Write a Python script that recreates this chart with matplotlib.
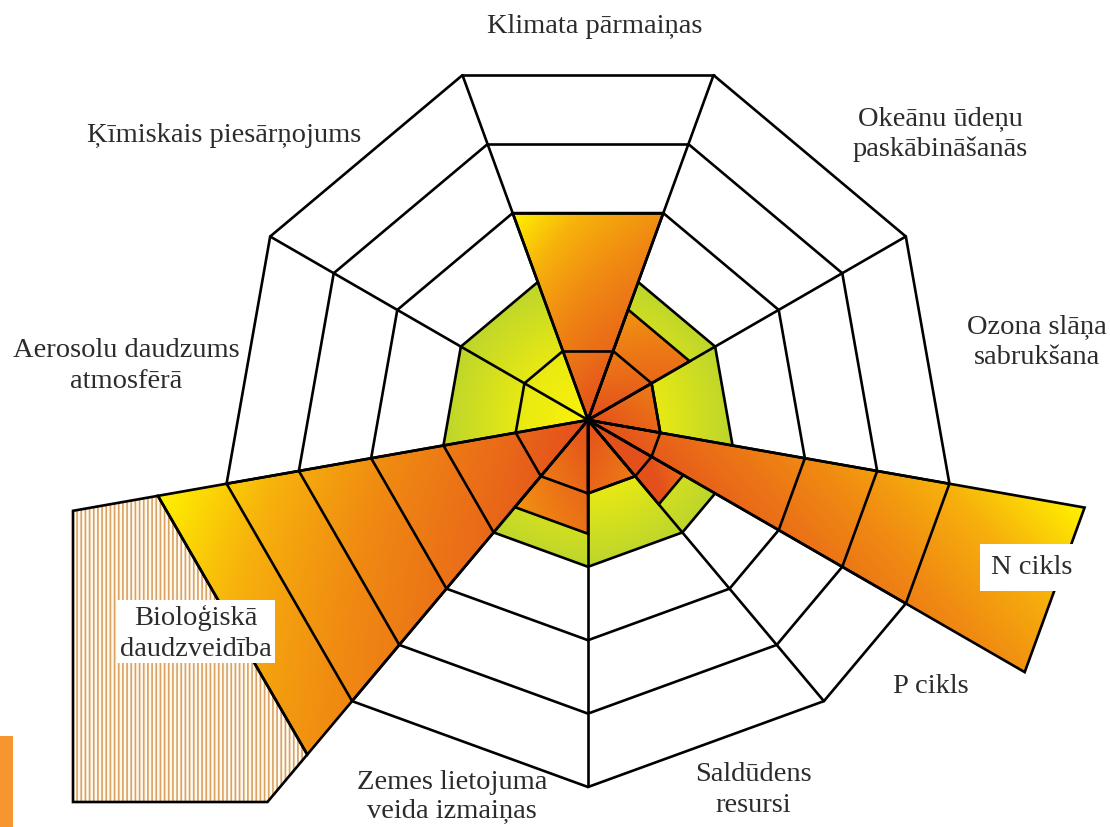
import numpy as np
import matplotlib.pyplot as plt
from matplotlib.patches import Polygon, Rectangle
from matplotlib.colors import LinearSegmentedColormap

# planetary boundaries (Latvian labels), one entry per sector
boundaries = ['Klimata pārmaiņas', 'Okeānu ūdeņu paskābināšanās', 'Ozona slāņa sabrukšana',
              'N cikls', 'P cikls', 'Saldūdens resursi', 'Zemes lietojuma veida izmaiņas',
              'Bioloģiskā daudzveidība', 'Aerosolu daudzums atmosfērā', 'Ķīmiskais piesārņojums']
# sector edges, degrees counter-clockwise from east
sector_start = [70, 30, -10, -30, -50, -90, -130, -170, 150, 110]
sector_end = [110, 70, 30, -10, -30, -50, -90, -130, 190, 150]
# current state in ring units (safe boundary at ring 2), nan = not quantified
current_state = [3.0, 1.6, 1.0, 6.87, 1.5, 1.0, 1.55, 5.95, np.nan, np.nan]
off_chart = ['Bioloģiskā daudzveidība']
safe_level = 2
n_rings = 5

# label text, split in lines
label_lines = {
    'Klimata pārmaiņas': ['Klimata pārmaiņas'],
    'Okeānu ūdeņu paskābināšanās': ['Okeānu ūdeņu', 'paskābināšanās'],
    'Ozona slāņa sabrukšana': ['Ozona slāņa', 'sabrukšana'],
    'N cikls': ['N cikls'],
    'P cikls': ['P cikls'],
    'Saldūdens resursi': ['Saldūdens', 'resursi'],
    'Zemes lietojuma veida izmaiņas': ['Zemes lietojuma', 'veida izmaiņas'],
    'Bioloģiskā daudzveidība': ['Bioloģiskā', 'daudzveidība'],
    'Aerosolu daudzums atmosfērā': ['Aerosolu daudzums', 'atmosfērā'],
    'Ķīmiskais piesārņojums': ['Ķīmiskais piesārņojums'],
}

# ---- layout (pixel coordinates, y down) ----
W, H = 1110, 827
cx, cy = 588, 420
unit = 73.4
hatch_left, hatch_bottom = 73, 802
label_pos = {
    'Klimata pārmaiņas': (595, 33),
    'Okeānu ūdeņu paskābināšanās': (940, 125),
    'Ozona slāņa sabrukšana': (1037, 333),
    'N cikls': (1032, 574),
    'P cikls': (931, 693),
    'Saldūdens resursi': (753, 781),
    'Zemes lietojuma veida izmaiņas': (452, 789),
    'Bioloģiskā daudzveidība': (196, 625),
    'Aerosolu daudzums atmosfērā': (126, 357),
    'Ķīmiskais piesārņojums': (224, 142),
}
line_step = {'Zemes lietojuma veida izmaiņas': 28}
hidden_rings = {'Klimata pārmaiņas': [2], 'N cikls': [2]}
boxed = {'N cikls'}
LW = 1.9
FONT = 'Liberation Serif'
TXT = '#2b2b2b'

state_cmap = LinearSegmentedColormap.from_list(
    'state', [(0, '#FFF200'), (0.28, '#F7B20C'), (0.55, '#F08A12'), (0.8, '#EA6C18'),
              (1, '#E4501C')])
safe_cmap = LinearSegmentedColormap.from_list(
    'safe', [(0, '#FBF20A'), (0.45, '#EAEA12'), (1, '#BCD52C')])
tone_shift = {'P cikls': 0.3}


def pt(level, ang):
    a = np.radians(ang)
    return (cx + level * unit * np.cos(a), cy - level * unit * np.sin(a))


def ray_to(ang, r_px):
    a = np.radians(ang)
    return (cx + r_px * np.cos(a), cy - r_px * np.sin(a))


fig = plt.figure(figsize=(W / 100, H / 100), dpi=100)
ax = fig.add_axes([0, 0, 1, 1])


def gradient_fill(poly_xy, func, cmap, zorder):
    poly_xy = np.asarray(poly_xy)
    x0, y0 = np.floor(poly_xy.min(axis=0)) - 2
    x1, y1 = np.ceil(poly_xy.max(axis=0)) + 2
    X, Y = np.meshgrid(np.arange(x0, x1 + 1), np.arange(y0, y1 + 1))
    img = cmap(np.clip(func(X, Y), 0, 1))
    im = ax.imshow(img, extent=(x0, x1, y0, y1), origin='lower',
                   interpolation='bilinear', aspect='auto', zorder=zorder)
    clip = Polygon(poly_xy, closed=True, transform=ax.transData, fill=False, lw=0)
    ax.add_patch(clip)
    im.set_clip_path(clip)


# safe operating space (ring 2 polygon), radial yellow -> green
edge_angles = sorted(set(sector_start), reverse=True)
safe_poly = [pt(safe_level, a) for a in edge_angles]
gradient_fill(safe_poly,
              lambda X, Y: np.hypot(X - cx, Y - cy) / (safe_level * unit),
              safe_cmap, 1)


def state_tone(a0, a1, level, shift):
    # yellow side is the sector edge that sits higher on the page
    score = lambda a: np.sin(np.radians(a)) - 0.1 * np.cos(np.radians(a))
    yellow_hi = score(a1) > score(a0)
    c = min(1.0, level / 3.0)

    def f(X, Y):
        dx, dy = X - cx, cy - Y
        r = np.hypot(dx, dy) / unit
        ang = np.degrees(np.arctan2(dy, dx))
        frac = np.clip(((ang - a0) % 360) / (a1 - a0), 0, 1)
        phi = 1 - frac if yellow_hi else frac
        return 1 - np.minimum(r / level, 1) * c * (1 - 0.5 * phi) + shift
    return f


# current-state wedges
wedges = []
for name, a0, a1, lev in zip(boundaries, sector_start, sector_end, current_state):
    if np.isnan(lev):
        continue
    poly = [(cx, cy), pt(lev, a0), pt(lev, a1)]
    gradient_fill(poly, state_tone(a0, a1, lev, tone_shift.get(name, 0)), state_cmap, 2)
    wedges.append(poly)

# off-chart extension (hatched)
plt.rcParams['hatch.linewidth'] = 1.2
for name, a0, a1, lev in zip(boundaries, sector_start, sector_end, current_state):
    if name not in off_chart:
        continue
    r_top = (cx - hatch_left) / abs(np.cos(np.radians(a0)))
    r_bot = (hatch_bottom - cy) / abs(np.sin(np.radians(a1)))
    ext = [pt(lev, a0), ray_to(a0, r_top), (hatch_left, hatch_bottom),
           ray_to(a1, r_bot), pt(lev, a1)]
    ax.add_patch(Polygon(ext, closed=True, facecolor='#FFF9F0', edgecolor='#D9A263',
                         hatch='||||', lw=0, zorder=2))
    ax.add_patch(Polygon(ext, closed=True, fill=False, edgecolor='black', lw=LW,
                         joinstyle='miter', zorder=4))

# grid: rays and ring segments
for a in edge_angles:
    x, y = pt(n_rings, a)
    ax.plot([cx, x], [cy, y], color='black', lw=LW, zorder=3, solid_capstyle='butt')
for name, a0, a1 in zip(boundaries, sector_start, sector_end):
    for k in range(1, n_rings + 1):
        if k in hidden_rings.get(name, []):
            continue
        p0, p1 = pt(k, a0), pt(k, a1)
        ax.plot([p0[0], p1[0]], [p0[1], p1[1]], color='black', lw=LW, zorder=3,
                solid_capstyle='round')

# wedge outlines
for poly in wedges:
    ax.add_patch(Polygon(poly, closed=True, fill=False, edgecolor='black', lw=LW,
                         joinstyle='miter', zorder=4))

# labels
for name in boundaries:
    x, y = label_pos[name]
    step = line_step.get(name, 31)
    for i, line in enumerate(label_lines[name]):
        kw = {}
        if name in boxed:
            kw['bbox'] = dict(boxstyle='square,pad=0.4', facecolor='white', edgecolor='none')
        ax.text(x, y + i * step, line, ha='center', va='baseline', fontsize=20.5,
                family=FONT, color=TXT, zorder=6, **kw)

# white box behind the biodiversity label
bx, by = label_pos['Bioloģiskā daudzveidība']
ax.add_patch(Rectangle((bx - 79, by - 25), 158, 63, facecolor='white', edgecolor='none',
                       zorder=5))

# slide accent bar
ax.add_patch(Rectangle((0, 736), 13, H - 736, facecolor='#F7962F', edgecolor='none', zorder=5))

ax.set_xlim(0, W)
ax.set_ylim(H, 0)
ax.axis('off')
fig.savefig('out.png', dpi=100, facecolor='white')
